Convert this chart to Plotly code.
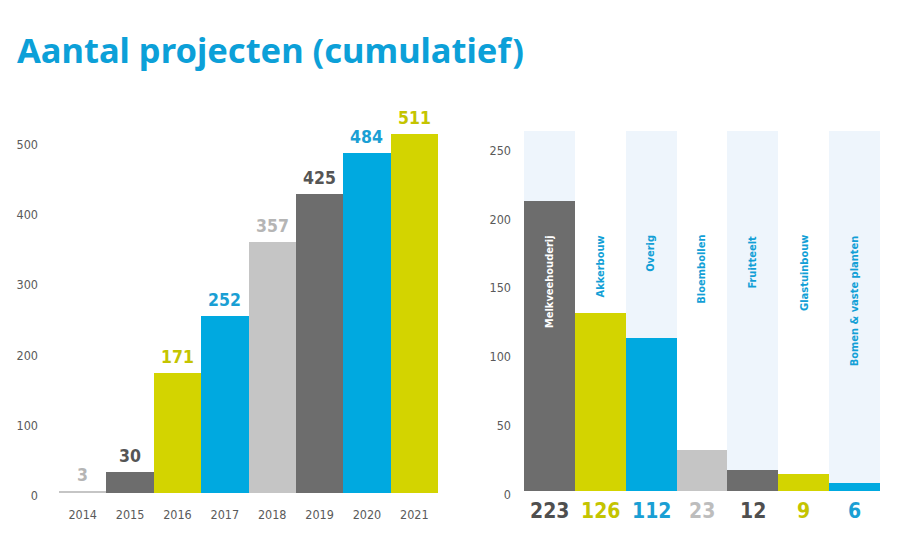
import plotly.graph_objects as go

# left chart: cumulative number of projects per year
years = ["2014", "2015", "2016", "2017", "2018", "2019", "2020", "2021"]
cumulative = [3, 30, 171, 252, 357, 425, 484, 511]

# right chart: projects per sector (drawn heights as in the picture, printed counts below)
sectors = ["Melkveehouderij", "Akkerbouw", "Overig", "Bloembollen",
           "Fruitteelt", "Glastuinbouw", "Bomen & vaste planten"]
sector_heights = [210, 129, 111, 30, 15, 12, 6]
sector_counts = [223, 126, 112, 23, 12, 9, 6]

DARK = "#6d6d6d"
LIME = "#d3d400"
BLUE = "#00a9e0"
LIGHT = "#c5c5c5"
STRIPE = "#eef5fc"
TITLE_BLUE = "#0ca0d8"

left_colors = [LIGHT, DARK, LIME, BLUE, LIGHT, DARK, BLUE, LIME]
left_text = ["#b5b5b5", "#555555", "#c4c400", "#1a9fd4", "#b5b5b5", "#555555", "#1a9fd4", "#c4c400"]
right_colors = [DARK, LIME, BLUE, LIGHT, DARK, LIME, BLUE]
right_text = ["#4f4f4f", "#c4c400", "#1a9fd4", "#bdbdbd", "#4f4f4f", "#c4c400", "#1a9fd4"]

NARROW = "DejaVu Sans Condensed, Liberation Sans Narrow, Roboto, sans-serif"
RIGHT_TOP = 261
W, H, OFF = 900, 548, 8  # page body has an 8px margin


def fx(px):
    return (px - OFF) / W


def fy(py):
    return 1 - (py - OFF) / H


fig = go.Figure()

fig.add_trace(go.Bar(
    x=years, y=cumulative, marker_color=left_colors, marker_line_width=0,
    xaxis="x", yaxis="y", showlegend=False, hoverinfo="x+y",
))

# alternating light stripes behind the sector bars
stripe_vals = [RIGHT_TOP if i % 2 == 0 else None for i in range(len(sectors))]
fig.add_trace(go.Bar(
    x=sectors, y=stripe_vals, marker_color=STRIPE, marker_line_width=0,
    xaxis="x2", yaxis="y2", showlegend=False, hoverinfo="skip",
))
fig.add_trace(go.Bar(
    x=sectors, y=sector_heights, marker_color=right_colors, marker_line_width=0,
    xaxis="x2", yaxis="y2", showlegend=False,
    customdata=sector_counts, hovertemplate="%{x}: %{customdata}<extra></extra>",
))

annotations = []
# category index as x, year strings would be read as numbers by the annotation
for i, (v, c) in enumerate(zip(cumulative, left_text)):
    annotations.append(dict(
        x=i, y=v, xref="x", yref="y", text=f"<b>{v}</b>", showarrow=False,
        yanchor="bottom", yshift=4, font=dict(family=NARROW, size=17.5, color=c),
    ))

for i, (n, c) in enumerate(zip(sector_counts, right_text)):
    annotations.append(dict(
        x=i, y=0, xref="x2", yref="y2", text=f"<b>{n}</b>", showarrow=False,
        yanchor="middle", yshift=-20, font=dict(family=NARROW, size=21, color=c),
    ))
    annotations.append(dict(
        x=i, y=184, xref="x2", yref="y2", text=f"<b>{sectors[i]}</b>", showarrow=False,
        textangle=-90, yanchor="top", yshift=4,
        font=dict(family=NARROW, size=11, color="white" if i == 0 else "#129fd6"),
    ))

annotations.append(dict(
    x=fx(15), y=fy(50), xref="paper", yref="paper", xanchor="left",
    yanchor="middle", showarrow=False, text="<b>Aantal projecten (cumulatief)</b>",
    font=dict(family="Noto Sans, sans-serif", size=34.5, color=TITLE_BLUE),
))

tick_font = dict(family=NARROW, size=12.5, color="#5a5a5a")

fig.update_layout(
    width=W, height=H,
    margin=dict(l=0, r=0, t=0, b=0),
    paper_bgcolor="white", plot_bgcolor="white",
    barmode="overlay", bargap=0,
    annotations=annotations,
    xaxis=dict(domain=[fx(59), fx(438)], anchor="y", type="category",
               range=[-0.5, len(years) - 0.5], automargin=False,
               showgrid=False, showline=False, ticks="", tickfont=tick_font,
               ticklabelstandoff=12, fixedrange=True),
    yaxis=dict(domain=[fy(493), fy(130)], anchor="x", range=[0, 516],
               tickvals=[0, 100, 200, 300, 400, 500], showgrid=False, zeroline=False,
               showline=False, ticks="", tickfont=tick_font, ticklabelstandoff=20,
               ticklabelshift=3, automargin=False, fixedrange=True),
    xaxis2=dict(domain=[fx(524), fx(880)], anchor="y2", type="category",
                range=[-0.5, len(sectors) - 0.5], automargin=False,
                showgrid=False, showline=False, ticks="", showticklabels=False,
                fixedrange=True),
    yaxis2=dict(domain=[fy(491), fy(131)], anchor="x2",
                range=[0, RIGHT_TOP], tickvals=[0, 50, 100, 150, 200, 250],
                showgrid=False, zeroline=False, showline=False, ticks="",
                tickfont=tick_font, ticklabelstandoff=12, ticklabelshift=4,
                automargin=False, fixedrange=True),
)

fig.write_html("out.html")
